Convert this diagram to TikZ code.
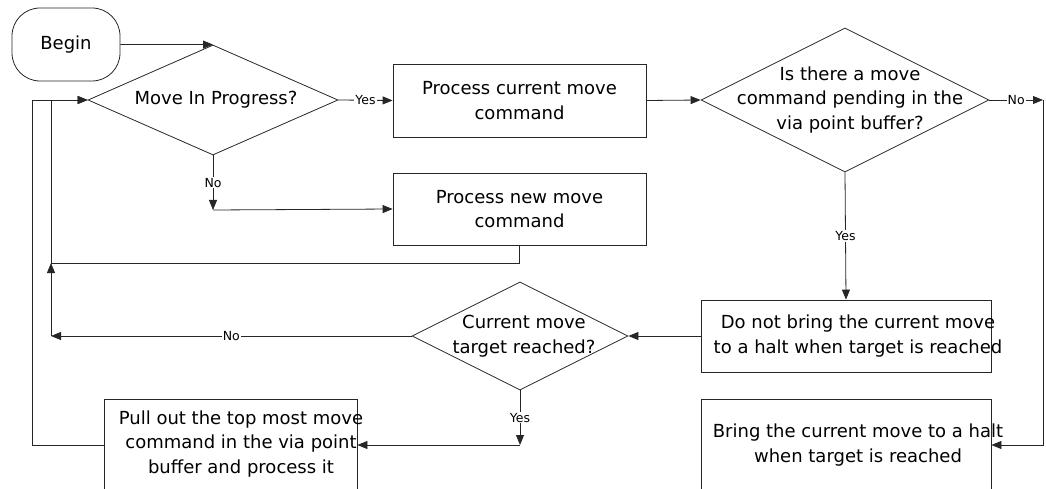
\documentclass[tikz,border=0pt]{standalone}
\usepackage{fontspec}
\setmainfont{DejaVu Sans}
\usetikzlibrary{shapes.geometric,arrows.meta}
\tikzset{
  stepbox/.style={draw=black!85, line width=0.8pt, rectangle, inner sep=0pt},
  decision/.style={draw=black!85, line width=0.8pt, diamond, inner sep=0pt},
  txt/.style={align=center, font=\fontsize{18}{24.5}\selectfont, inner sep=0pt},
  lbl/.style={fill=white, inner sep=1pt, font=\fontsize{12.5}{14}\selectfont},
  arr/.style={draw=black!85, line width=0.8pt, -{Triangle[length=10pt,width=8pt]}},
}
\begin{document}
\begin{tikzpicture}[x=1pt,y=-1pt]
    \useasboundingbox (0,0) rectangle (1046,489);
    \clip (0,0) rectangle (1046,489);
    % boxes and decisions
    \node[stepbox, txt, rounded corners=28pt, minimum width=108, minimum height=73] (begin) at (66,44.5) {Begin};
    \node[decision, minimum width=250, minimum height=110] (prog) at (213,100) {};
    \node[txt] (progtxt) at (216,100) {Move In Progress?};
    \node[stepbox, txt, minimum width=253, minimum height=73] (cur) at (519.5,100.5) {Process current move\\command};
    \node[stepbox, txt, minimum width=253, minimum height=72] (new) at (519.5,209) {Process new move\\command};
    \node[decision, minimum width=288, minimum height=144] (pend) at (845,100) {};
    \node[txt] (pendtxt) at (850,100) {Is there a move\\command pending in the\\via point buffer?};
    \node[stepbox, minimum width=290, minimum height=72] (keep) at (846,336) {};
    \node[txt] (keeptxt) at (858,336) {Do not bring the current move\\to a halt when target is reached};
    \node[decision, minimum width=216, minimum height=108] (reach) at (520,336) {};
    \node[txt] (reachtxt) at (524,336) {Current move\\target reached?};
    \node[stepbox, minimum width=290, minimum height=92] (halt) at (846,445) {};
    \node[txt] (halttxt) at (858,445) {Bring the current move to a halt\\when target is reached};
    \node[stepbox, minimum width=253, minimum height=92] (pull) at (230.5,445) {};
    \node[txt] (pulltxt) at (241,444) {Pull out the top most move\\command in the via point\\buffer and process it};
    % bends of the connectors
    \coordinate (nojoin) at (213,210);
    \coordinate (loopin) at (51,263);
    \coordinate (nodrop) at (51,336);
    \coordinate (yesdrop) at (520,445);
    \coordinate (noturn) at (1043,100);
    \coordinate (outer) at (32,100);
    % connectors
    \draw[arr] (begin.east) -- (prog.north);
    \draw[arr] (prog.east) -- node[lbl] {Yes} (cur.west);
    \draw[arr] (prog.south) -- node[lbl] {No} (nojoin);
    \draw[arr] (nojoin) -- (new.west);
    \draw[arr] (cur.east) -- (pend.west);
    \draw[arr] (pend.east) -- node[lbl] {No} (noturn);
    \draw[arr] (noturn) |- (halt.east);
    \draw[arr] (pend.south) -- node[lbl] {Yes} (keep.north);
    \draw[arr] (keep.west) -- (reach.east);
    \draw[arr] (reach.west) -- node[lbl] {No} (nodrop);
    \draw[arr] (nodrop) -- (loopin);
    \draw[arr] (reach.south) -- node[lbl] {Yes} (yesdrop);
    \draw[arr] (yesdrop) -- (pull.east);
    \draw[arr] (new.south) |- (loopin) |- (prog.west); % back to the start
    \draw[arr] (pull.west) -| (outer) -- (prog.west); % outer loop
\end{tikzpicture}
\end{document}
